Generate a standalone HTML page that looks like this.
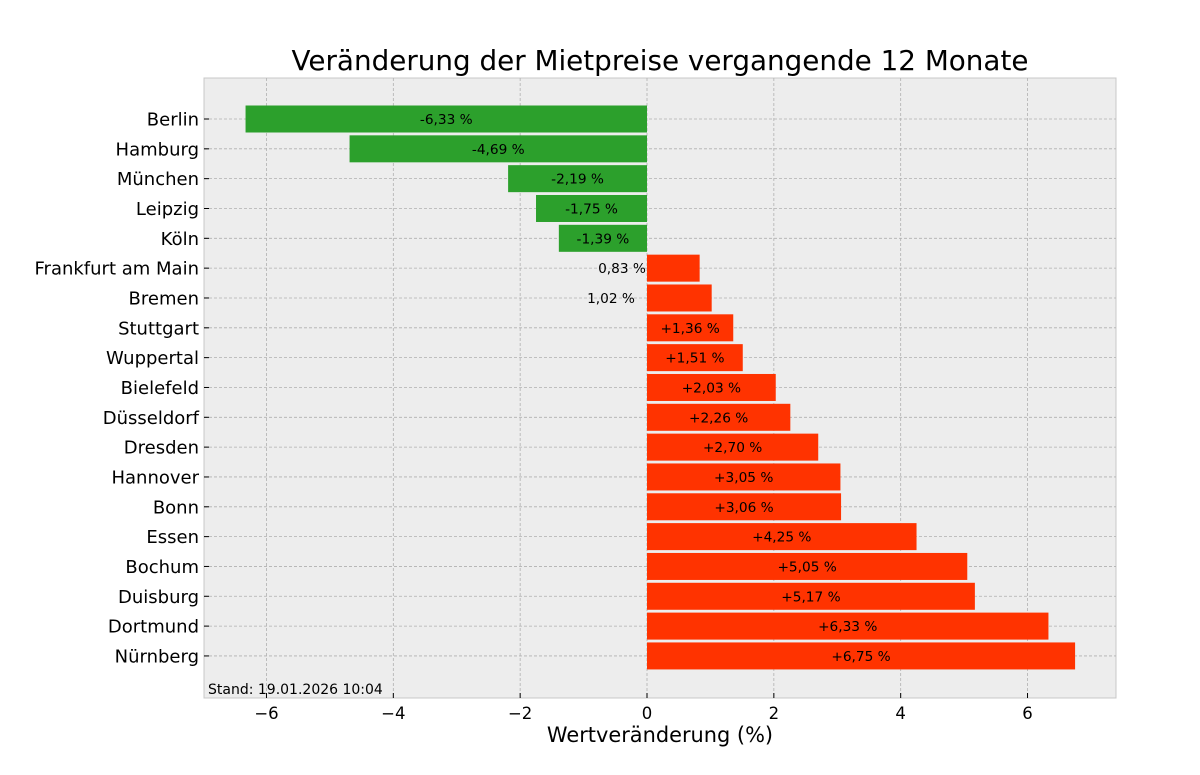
<!DOCTYPE html>
<html><head><meta charset="utf-8"><style>body{margin:0;background:#fff}svg{display:block}text{font-family:"DejaVu Sans","Liberation Sans",sans-serif}</style></head>
<body>
<svg id="s" width="1200" height="775" xmlns="http://www.w3.org/2000/svg">
<rect x="204" y="78" width="912" height="620" fill="#ededed" stroke="#c8c8c8" stroke-width="1"/>
<g id="g"></g>
<text x="660" y="70" font-size="27.8" text-anchor="middle">Veränderung der Mietpreise vergangende 12 Monate</text>
<text x="660" y="742" font-size="20.9" text-anchor="middle">Wertveränderung (%)</text>
<text x="208" y="694" font-size="14">Stand: 19.01.2026 10:04</text>
</svg>
<script>
const d=[["Berlin",-6.33],["Hamburg",-4.69],["München",-2.19],["Leipzig",-1.75],["Köln",-1.39],["Frankfurt am Main",0.83],["Bremen",1.02],["Stuttgart",1.36],["Wuppertal",1.51],["Bielefeld",2.03],["Düsseldorf",2.26],["Dresden",2.70],["Hannover",3.05],["Bonn",3.06],["Essen",4.25],["Bochum",5.05],["Duisburg",5.17],["Dortmund",6.33],["Nürnberg",6.75]];
const X=v=>647+v*63.42, Y=i=>119+i*29.83;
let h="";
for(let t=-6;t<=6;t+=2){const x=X(t);h+=`<line x1="${x}" y1="78" x2="${x}" y2="698" stroke="#b0b0b0" stroke-dasharray="3,2" stroke-width="0.8"/><line x1="${x}" y1="698" x2="${x}" y2="693" stroke="#000"/><text x="${x}" y="719" font-size="16.5" text-anchor="middle">${t<0?"−"+(-t):t}</text>`;}
d.forEach((r,i)=>{const y=Y(i);h+=`<line x1="204" y1="${y}" x2="1116" y2="${y}" stroke="#b0b0b0" stroke-dasharray="3,2" stroke-width="0.8"/><line x1="204" y1="${y}" x2="209" y2="${y}" stroke="#000"/><text x="199" y="${y+6.5}" font-size="18" text-anchor="end">${r[0]}</text>`;});
d.forEach((r,i)=>{const y=Y(i),v=r[1],x0=X(0),x1=X(v);h+=`<rect x="${Math.min(x0,x1)}" y="${y-13.5}" width="${Math.abs(x1-x0)}" height="27" fill="${v<0?'#2ca02c':'#ff3300'}"/>`;
let s=v.toFixed(2).replace(".",",")+" %";let cx=(x0+x1)/2;
if(i==5){cx=622;}else if(i==6){cx=611;}else if(v>0)s="+"+s;
h+=`<text x="${cx}" y="${y+5}" font-size="13.7" text-anchor="middle">${s}</text>`;});
document.getElementById("g").innerHTML=h;
</script>
</body></html>
